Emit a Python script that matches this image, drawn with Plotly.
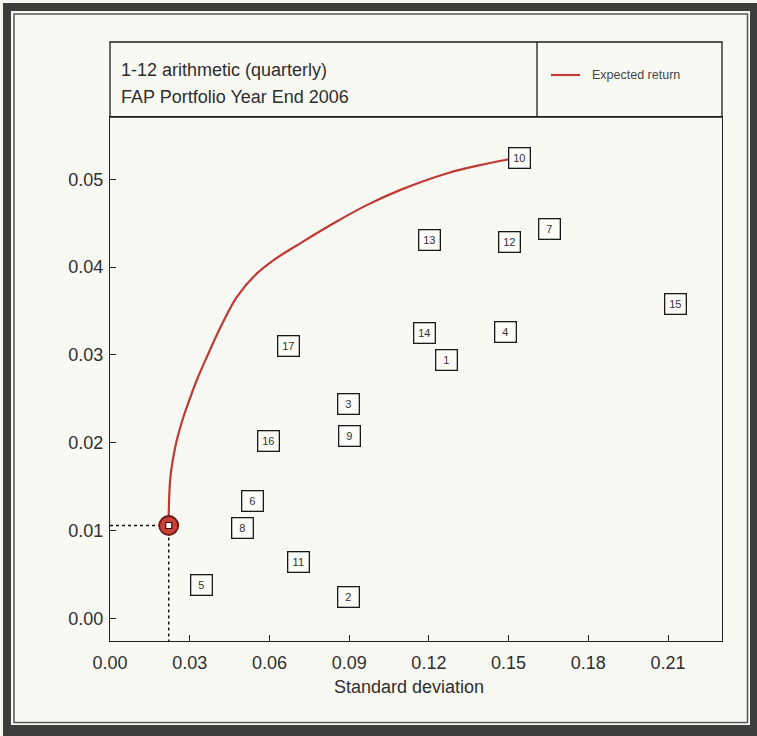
import plotly.graph_objects as go

W, H = 757, 736

# ---- data ----
asset_labels = ["1", "2", "3", "4", "5", "6", "7", "8", "9", "10",
                "11", "12", "13", "14", "15", "16", "17"]
asset_sd = [0.1268, 0.0898, 0.0897, 0.1488, 0.0345, 0.0536, 0.1653, 0.0499, 0.0900, 0.1540,
            0.0709, 0.1505, 0.1202, 0.1183, 0.2128, 0.0596, 0.0671]
asset_ret = [0.02945, 0.00243, 0.02443, 0.03260, 0.00380, 0.01339, 0.04436, 0.01023, 0.02081, 0.05247,
             0.00643, 0.04284, 0.04307, 0.03249, 0.03584, 0.02021, 0.03097]

frontier_sd = [0.0221, 0.0221, 0.0226, 0.0232, 0.0251, 0.0276, 0.0307, 0.0326, 0.0364, 0.0418,
               0.0477, 0.0552, 0.0615, 0.0720, 0.0840, 0.0966, 0.1091, 0.1267, 0.1393, 0.1499, 0.1535]
frontier_ret = [0.01057, 0.01187, 0.01567, 0.01719, 0.02024, 0.02290, 0.02557, 0.02709, 0.02975, 0.03330,
                0.03660, 0.03927, 0.04079, 0.04280, 0.04498, 0.04707, 0.04878, 0.05068, 0.05163, 0.05228, 0.05248]

minvar_sd = 0.0221
minvar_ret = 0.01057

x_ticks = [0.00, 0.03, 0.06, 0.09, 0.12, 0.15, 0.18, 0.21]
y_ticks = [0.00, 0.01, 0.02, 0.03, 0.04, 0.05]

title_lines = ["1-12 arithmetic (quarterly)", "FAP Portfolio Year End 2006"]
legend_label = "Expected return"
x_title = "Standard deviation"

x_range = [0, 0.2303]
y_range = [-0.00259, 0.05711]

# ---- helpers ----
def px(x):
    return x / W

def py(y):
    return 1 - y / H

FONT = "Liberation Sans, Arial, sans-serif"
TXT = "#2e2e2e"
RED = "#bf3a33"
BG = "#f9f9f4"

# plot area in pixels
L, R, T, B = 110, 722, 117, 641
BOX_TOP = 42
DIV_X = 537

fig = go.Figure()

# dashed guides
fig.add_trace(go.Scatter(x=[minvar_sd, minvar_sd], y=[minvar_ret, y_range[0]], mode="lines",
                         line=dict(color="#111", width=1.5, dash="3px,3px"), showlegend=False, hoverinfo="skip"))
fig.add_trace(go.Scatter(x=[x_range[0], minvar_sd], y=[minvar_ret, minvar_ret], mode="lines",
                         line=dict(color="#111", width=1.5, dash="3px,3px"), showlegend=False, hoverinfo="skip"))

# frontier
fig.add_trace(go.Scatter(x=frontier_sd, y=frontier_ret, mode="lines", name=legend_label,
                         line=dict(color=RED, width=2.2, shape="spline", smoothing=1.0), showlegend=False))

# min variance marker
fig.add_trace(go.Scatter(x=[minvar_sd], y=[minvar_ret], mode="markers",
                         marker=dict(size=19, color="#c8423a", line=dict(color="#6e1a14", width=1.8)),
                         showlegend=False))
fig.add_trace(go.Scatter(x=[minvar_sd], y=[minvar_ret], mode="markers",
                         marker=dict(size=6, symbol="square", color="white", line=dict(color="#3a0d0a", width=1.2)),
                         showlegend=False))

annotations = []
for lab, xs, yr in zip(asset_labels, asset_sd, asset_ret):
    annotations.append(dict(x=xs, y=yr, xref="x", yref="y", text=lab, showarrow=False,
                            font=dict(family=FONT, size=11, color="#333"),
                            bgcolor="#fbfbf7", bordercolor="#1a1a1a", borderwidth=1.3,
                            borderpad=2, width=16, height=15))

# titles
annotations.append(dict(x=px(119), y=py(70), xref="paper", yref="paper", text=title_lines[0],
                        showarrow=False, xanchor="left", yanchor="middle",
                        font=dict(family=FONT, size=18, color=TXT)))
annotations.append(dict(x=px(119), y=py(97), xref="paper", yref="paper", text=title_lines[1],
                        showarrow=False, xanchor="left", yanchor="middle",
                        font=dict(family=FONT, size=18, color=TXT)))
annotations.append(dict(x=px(590), y=py(75), xref="paper", yref="paper", text=legend_label,
                        showarrow=False, xanchor="left", yanchor="middle",
                        font=dict(family=FONT, size=12.5, color="#444")))
# x-axis title
annotations.append(dict(x=px(409), y=py(687), xref="paper", yref="paper", text=x_title,
                        showarrow=False, xanchor="center", yanchor="middle",
                        font=dict(family=FONT, size=18, color=TXT)))

shapes = []
# outer scan frame
dark = "#3d3d3d"
shapes += [
    dict(type="rect", xref="paper", yref="paper", x0=px(3), x1=px(11), y0=py(736), y1=py(3), fillcolor=dark, line=dict(width=0), layer="above"),
    dict(type="rect", xref="paper", yref="paper", x0=px(3), x1=px(757), y0=py(11), y1=py(3), fillcolor=dark, line=dict(width=0), layer="above"),
    dict(type="rect", xref="paper", yref="paper", x0=px(750), x1=px(757), y0=py(736), y1=py(3), fillcolor=dark, line=dict(width=0), layer="above"),
    dict(type="rect", xref="paper", yref="paper", x0=px(3), x1=px(757), y0=py(736), y1=py(725), fillcolor=dark, line=dict(width=0), layer="above"),
    dict(type="rect", xref="paper", yref="paper", x0=px(14), x1=px(747.5), y0=py(722.5), y1=py(14), line=dict(color="#555", width=1.5), layer="above"),
]
# title / legend box
shapes += [
    dict(type="rect", xref="paper", yref="paper", x0=px(L), x1=px(R), y0=py(T), y1=py(BOX_TOP), line=dict(color="#1e1e1e", width=1.3)),
    dict(type="line", xref="paper", yref="paper", x0=px(DIV_X), x1=px(DIV_X), y0=py(T), y1=py(BOX_TOP), line=dict(color="#1e1e1e", width=1.3)),
    dict(type="line", xref="paper", yref="paper", x0=px(551), x1=px(580), y0=py(75), y1=py(75), line=dict(color=RED, width=2.2)),
]

fig.update_layout(
    width=W, height=H, margin=dict(l=0, r=0, t=0, b=0, autoexpand=False),
    paper_bgcolor=BG, plot_bgcolor=BG,
    font=dict(family=FONT, color=TXT),
    showlegend=False,
    annotations=annotations, shapes=shapes,
    xaxis=dict(domain=[px(L), px(R)], range=x_range, tickvals=x_ticks, tickformat=".2f",
               ticks="inside", ticklen=6, tickcolor="#222", showgrid=False, zeroline=False,
               showline=True, linecolor="#1e1e1e", linewidth=1.3, mirror=True, automargin=False,
               ticklabelstandoff=5,
               tickfont=dict(family=FONT, size=18, color=TXT)),
    yaxis=dict(domain=[py(B), py(T)], range=y_range, tickvals=y_ticks, tickformat=".2f",
               ticks="inside", ticklen=6, tickcolor="#222", showgrid=False, zeroline=False,
               showline=True, linecolor="#1e1e1e", linewidth=1.3, mirror=True, automargin=False,
               ticklabelstandoff=2,
               tickfont=dict(family=FONT, size=18, color=TXT)),
)

fig.write_html("out.html")
